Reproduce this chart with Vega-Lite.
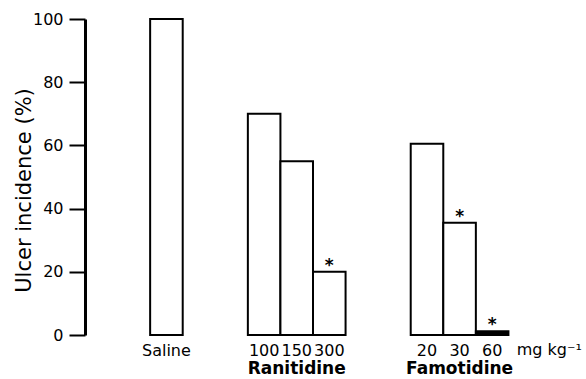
{
  "$schema": "https://vega.github.io/schema/vega-lite/v6.json",
  "width": 456,
  "height": 316,
  "autosize": {"type": "none"},
  "padding": {"left": 85, "top": 19, "right": 45, "bottom": 44},
  "background": "white",
  "config": {"font": "DejaVu Sans", "view": {"stroke": null}},
  "datasets": {
    "bars": [
      {"slot": "S_Saline", "group": "Saline", "value": 100, "sig": false},
      {"slot": "R_100", "group": "Ranitidine", "value": 70, "sig": false},
      {"slot": "R_150", "group": "Ranitidine", "value": 55, "sig": false},
      {"slot": "R_300", "group": "Ranitidine", "value": 20, "sig": true},
      {"slot": "F_20", "group": "Famotidine", "value": 60.5, "sig": false},
      {"slot": "F_30", "group": "Famotidine", "value": 35.5, "sig": true},
      {"slot": "F_60", "group": "Famotidine", "value": 1.2, "sig": true}
    ],
    "groups": [
      {"slot": "R_150", "label": "Ranitidine"},
      {"slot": "F_30", "label": "Famotidine"}
    ],
    "units": [
      {"slot": "unit", "label": "mg kg⁻¹"}
    ]
  },
  "layer": [
    {
      "data": {"name": "bars"},
      "mark": {"type": "bar", "stroke": "black", "strokeWidth": 2},
      "encoding": {
        "x": {
          "field": "slot",
          "type": "nominal",
          "sort": null,
          "scale": {
            "domain": ["gap1", "gap2", "S_Saline", "gap3", "gap4", "R_100", "R_150", "R_300", "gap5", "gap6", "F_20", "F_30", "F_60", "unit"],
            "paddingInner": 0,
            "paddingOuter": 0
          },
          "axis": {
            "title": null,
            "domain": false,
            "ticks": false,
            "labelAngle": 0,
            "labelFontSize": 16,
            "labelPadding": 7,
            "labelColor": "black",
            "labelExpr": "indexof(datum.value, '_') >= 0 ? split(datum.value, '_')[1] : ''"
          }
        },
        "y": {
          "field": "value",
          "type": "quantitative",
          "scale": {"domain": [0, 100], "nice": false},
          "axis": {
            "title": "Ulcer incidence (%)",
            "titleFontSize": 21,
            "titleFontWeight": "normal",
            "titleColor": "black",
            "titleX": -61,
            "titleY": 171,
            "titleAngle": -90,
            "titleAlign": "center",
            "titleBaseline": "middle",
            "values": [0, 20, 40, 60, 80, 100],
            "grid": false,
            "domainColor": "black",
            "domainWidth": 3,
            "tickColor": "black",
            "tickWidth": 2,
            "tickSize": 16,
            "labelFontSize": 16,
            "labelPadding": 6,
            "labelColor": "black"
          }
        },
        "fill": {
          "condition": {"test": "datum.value < 5", "value": "black"},
          "value": "white"
        }
      }
    },
    {
      "data": {"name": "bars"},
      "transform": [{"filter": "datum.sig"}],
      "mark": {"type": "text", "text": "*", "fontSize": 17, "fontWeight": "bold", "baseline": "alphabetic", "dy": -1, "color": "black"},
      "encoding": {
        "x": {"field": "slot", "type": "nominal", "sort": null},
        "y": {"field": "value", "type": "quantitative"}
      }
    },
    {
      "data": {"name": "groups"},
      "mark": {"type": "text", "fontSize": 17, "fontWeight": "bold", "baseline": "alphabetic", "dy": 39, "color": "black"},
      "encoding": {
        "x": {"field": "slot", "type": "nominal", "sort": null},
        "y": {"datum": 0, "type": "quantitative"},
        "text": {"field": "label"}
      }
    },
    {
      "data": {"name": "units"},
      "mark": {"type": "text", "fontSize": 16, "align": "left", "baseline": "alphabetic", "dy": 20, "dx": -8, "color": "black"},
      "encoding": {
        "x": {"field": "slot", "type": "nominal", "sort": null},
        "y": {"datum": 0, "type": "quantitative"},
        "text": {"field": "label"}
      }
    }
  ]
}
